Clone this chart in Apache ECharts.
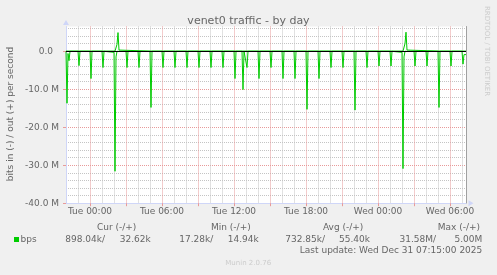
<!DOCTYPE html>
<html><head><meta charset="utf-8">
<script src="https://cdn.jsdelivr.net/npm/echarts@6/dist/echarts.min.js"></script>
<style>html,body{margin:0;padding:0;background:#f0f0f0;}#c{width:497px;height:275px;}</style>
</head><body><div id="c"></div>
<script>
// ---- data (minutes relative to Tue 00:00, values in Mbit/s) ----
const title = 'venet0 traffic - by day';
const yName = 'bits in (-) / out (+) per second';
const xLabelMinutes = [0, 360, 720, 1080, 1440, 1800];
const xLabels = ['Tue 00:00', 'Tue 06:00', 'Tue 12:00', 'Tue 18:00', 'Wed 00:00', 'Wed 06:00'];
const xMajorMinutes = [0, 180, 360, 540, 720, 900, 1080, 1260, 1440, 1620, 1800];
const yLabelValues = [0, -10, -20, -30, -40];
const yLabels = ['0.0', '-10.0 M', '-20.0 M', '-30.0 M', '-40.0 M'];

const inMinutes = [
  -120, -115, -110, -105, -100,
  -60, -55, -50,
  0, 5, 10,
  60, 65, 70,
  120, 125, 130, 135,
  180, 185, 190,
  240, 245, 250,
  300, 305, 310,
  360, 365, 370,
  420, 425, 430,
  480, 485, 490,
  540, 545, 550,
  600, 605, 610,
  660, 665, 670,
  720, 725, 730,
  760, 765, 770,
  780, 785, 790,
  840, 845, 850,
  900, 905, 910,
  960, 965, 970,
  1020, 1025, 1030,
  1080, 1085, 1090,
  1140, 1145, 1150,
  1200, 1205, 1210,
  1260, 1265, 1270,
  1320, 1325, 1330,
  1380, 1385, 1390,
  1440, 1445, 1450,
  1500, 1505, 1510,
  1560, 1565, 1570, 1575,
  1620, 1625, 1630,
  1680, 1685, 1690,
  1740, 1745, 1750,
  1800, 1805, 1810,
  1860, 1865, 1870, 1880
];
const inMbps = [
  -0.03, -13.7, -0.6, -2.5, -0.03,
  -0.03, -3.8, -0.03,
  -0.03, -7.2, -0.03,
  -0.03, -4.3, -0.03,
  -0.3, -31.6, -1.5, -0.03,
  -0.03, -4.3, -0.03,
  -0.03, -4.3, -0.03,
  -0.03, -14.8, -0.03,
  -0.03, -4.3, -0.03,
  -0.03, -4.3, -0.03,
  -0.03, -4.3, -0.03,
  -0.03, -4.3, -0.03,
  -0.03, -4.3, -0.03,
  -0.03, -4.3, -0.03,
  -0.03, -7.2, -0.03,
  -0.03, -10.1, -0.03,
  -0.03, -4.3, -0.03,
  -0.03, -7.2, -0.03,
  -0.03, -4.3, -0.03,
  -0.03, -7.2, -0.03,
  -0.03, -7.2, -0.03,
  -0.03, -15.3, -0.03,
  -0.03, -7.2, -0.03,
  -0.03, -4.3, -0.03,
  -0.03, -4.3, -0.03,
  -0.03, -15.5, -0.03,
  -0.03, -4.3, -0.03,
  -0.03, -3.9, -0.03,
  -0.03, -3.9, -0.03,
  -0.3, -30.9, -1.5, -0.03,
  -0.03, -3.9, -0.03,
  -0.03, -3.9, -0.03,
  -0.03, -14.8, -0.03,
  -0.03, -3.9, -0.03,
  -0.03, -3.4, -0.9, -0.9
];
const outMinutes = [-120, -115, -110, 125, 130, 135, 140, 145, 150, 295, 300, 305, 600, 605, 610, 645, 650, 655, 1565, 1570, 1575, 1580, 1585, 1590, 1745, 1750, 1755, 1880];
const outMbps    = [0.03, 0.4, 0.03, 0.03, 0.5, 1.8, 4.9, 0.3, 0.03, 0.03, 0.3, 0.03, 0.03, 0.3, 0.03, 0.03, 0.2, 0.03, 0.03, 0.4, 2.0, 5.0, 0.3, 0.03, 0.03, 0.4, 0.03, 0.03];

const legendName = 'bps';
const statHeaders = ['Cur (-/+)', 'Min (-/+)', 'Avg (-/+)', 'Max (-/+)'];
const statIn = ['898.04k/', '17.28k/', '732.85k/', '31.58M/'];
const statOut = ['32.62k', '14.94k', '55.40k', '5.00M'];
const lastUpdate = 'Last update: Wed Dec 31 07:15:00 2025';
const footer = 'Munin 2.0.76';
const watermark = 'RRDTOOL / TOBI OETIKER';

// ---- styling / layout ----
const FONT = '"DejaVu Sans", sans-serif';
const TXT = '#666666';
const GREEN = '#00cc00';
const G = '#c4c4c4', R = '#e89a9a';
const AXIS = '#CFD6F8';

const inData = inMinutes.map((m, i) => [m, inMbps[i]]);
const outData = outMinutes.map((m, i) => [m, outMbps[i]]);

const headerRight = [136.3, 250.7, 363.3, 480];
const inRight = [105, 213.3, 325, 436];
const outRight = [150.7, 258.7, 370, 482.3];

const graphics = [
  {type: 'text', x: 248.5, y: 21, style: {text: title, font: '11px ' + FONT, fill: TXT, align: 'center', verticalAlign: 'middle'}},
  {type: 'text', x: 11, y: 114, rotation: Math.PI / 2, style: {text: yName, font: '9px ' + FONT, fill: TXT, align: 'center', verticalAlign: 'middle'}},
  {type: 'text', x: 487, y: 51, rotation: -Math.PI / 2, style: {text: watermark, font: '7px ' + FONT, fill: '#cccccc', align: 'center', verticalAlign: 'middle'}},
  {type: 'rect', shape: {x: 14, y: 237, width: 5, height: 5}, style: {fill: GREEN}},
  {type: 'text', x: 20.5, y: 239.5, style: {text: legendName, font: '9px ' + FONT, fill: TXT, align: 'left', verticalAlign: 'middle'}},
  {type: 'text', x: 482.3, y: 251, style: {text: lastUpdate, font: '9px ' + FONT, fill: TXT, align: 'right', verticalAlign: 'middle'}},
  {type: 'text', x: 248.2, y: 263, style: {text: footer, font: '7px ' + FONT, fill: '#cccccc', align: 'center', verticalAlign: 'middle'}}
];
statHeaders.forEach((h, i) => graphics.push({type: 'text', x: headerRight[i], y: 227.5, style: {text: h, font: '9px ' + FONT, fill: TXT, align: 'right', verticalAlign: 'middle'}}));
statIn.forEach((h, i) => graphics.push({type: 'text', x: inRight[i], y: 239.5, style: {text: h, font: '9px ' + FONT, fill: TXT, align: 'right', verticalAlign: 'middle'}}));
statOut.forEach((h, i) => graphics.push({type: 'text', x: outRight[i], y: 239.5, style: {text: h, font: '9px ' + FONT, fill: TXT, align: 'right', verticalAlign: 'middle'}}));

const chart = echarts.init(document.getElementById('c'), null, {renderer: 'canvas', width: 497, height: 275});
chart.setOption({
  backgroundColor: '#f0f0f0',
  animation: false,
  grid: {left: 66, top: 26.5, width: 400, height: 176.7, show: true, backgroundColor: '#ffffff', borderWidth: 0},
  xAxis: [{
    // hourly grid
    type: 'value', min: -120, max: 1880, interval: 60,
    axisLine: {show: false, onZero: false}, axisTick: {show: false}, axisLabel: {show: false},
    splitLine: {show: true, showMinLine: false, showMaxLine: false, lineStyle: {color: [G, R, G], type: [1, 1], width: 1}}
  }, {
    // axis line, major ticks and labels
    type: 'value', min: -120, max: 1880, position: 'bottom',
    axisLine: {show: true, onZero: false, lineStyle: {color: AXIS, width: 1}, symbol: ['none', 'triangle'], symbolSize: [6, 5], symbolOffset: [0, 5]},
    axisTick: {show: true, length: 3, customValues: xMajorMinutes, lineStyle: {color: R}},
    axisLabel: {show: true, customValues: xLabelMinutes, margin: 4, color: TXT, fontFamily: FONT, fontSize: 9,
      formatter: v => { const i = xLabelMinutes.indexOf(v); return i >= 0 ? xLabels[i] : ''; }},
    splitLine: {show: false}
  }],
  yAxis: [{
    // 2M grid
    type: 'value', min: -40, max: 6.5, interval: 2,
    axisLine: {show: false, onZero: false}, axisTick: {show: false}, axisLabel: {show: false},
    splitLine: {show: true, showMinLine: false, showMaxLine: false, lineStyle: {color: [G, G, G, G, R], type: [1, 1], width: 1}}
  }, {
    type: 'value', min: -40, max: 6.5, position: 'left',
    axisLine: {show: true, onZero: false, lineStyle: {color: AXIS, width: 1}, symbol: ['none', 'triangle'], symbolSize: [6, 5], symbolOffset: [0, 4]},
    axisTick: {show: true, length: 3, customValues: yLabelValues, lineStyle: {color: R}},
    axisLabel: {show: true, customValues: yLabelValues, margin: 7, color: TXT, fontFamily: FONT, fontSize: 9,
      formatter: v => { const i = yLabelValues.indexOf(v); if (i < 0) return ''; const s = yLabels[i]; return s.indexOf('M') >= 0 ? s : '{p|' + s + '}'; },
      rich: {p: {padding: [0, 6, 0, 0], color: TXT, fontFamily: FONT, fontSize: 9}}},
    splitLine: {show: false}
  }, {
    type: 'value', min: -40, max: 6.5, position: 'right',
    axisLine: {show: true, onZero: false, lineStyle: {color: '#a0a0a0', width: 1}},
    axisTick: {show: false}, axisLabel: {show: false}, splitLine: {show: false}
  }],
  graphic: graphics,
  series: [{
    type: 'line', name: 'in', data: inData, showSymbol: false, symbol: 'none',
    lineStyle: {color: GREEN, width: 1}, itemStyle: {color: GREEN},
    markLine: {silent: true, symbol: 'none', label: {show: false}, lineStyle: {color: '#000000', width: 1, type: 'solid'}, data: [{yAxis: 0}]}
  }, {
    type: 'line', name: 'out', data: outData, showSymbol: false, symbol: 'none',
    lineStyle: {color: GREEN, width: 1}, itemStyle: {color: GREEN}
  }]
});
</script></body></html>
